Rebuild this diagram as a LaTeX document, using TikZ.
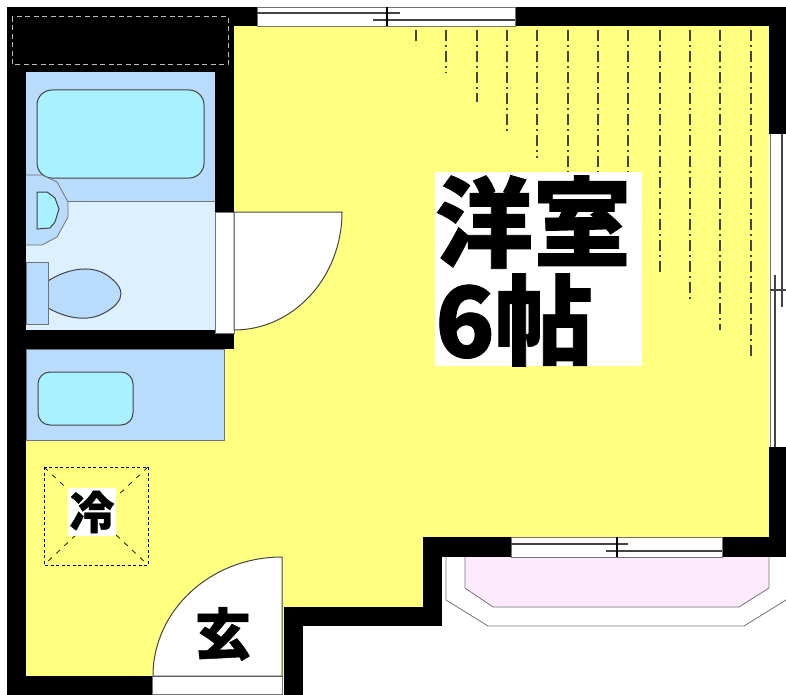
\documentclass[tikz,border=0pt]{standalone}
\usepackage{fontspec}
\newfontfamily\cjk[BoldFeatures={FakeBold=0.8}]{Noto Sans CJK JP}
\definecolor{roomyellow}{HTML}{FFFF80}
\definecolor{bathblue}{HTML}{B9DCFD}
\definecolor{washblue}{HTML}{DDF0FF}
\definecolor{tubcyan}{HTML}{A9F1FF}
\definecolor{balconypink}{HTML}{FDEBFD}
\definecolor{linegrey}{HTML}{444444}
\tikzset{
    wall/.style={fill=black,draw=none},
    fixture/.style={draw=linegrey,line width=1pt},
    thinline/.style={draw=linegrey,line width=1.1pt},
    framed/.style={draw=linegrey!75,line width=0.8pt},
    ceiling/.style={draw=linegrey,line width=1.2pt,dash pattern=on 11pt off 4pt on 2pt off 4pt},
    fridgeline/.style={draw=black,line width=0.8pt,dash pattern=on 3pt off 2.5pt},
    fridgediag/.style={draw=black,line width=0.7pt,dash pattern=on 5pt off 6pt},
    label/.style={font=\cjk\bfseries,inner sep=0pt,text=black}
}
\begin{document}
\begin{tikzpicture}[x=1pt,y=-1pt]
    \useasboundingbox (0,0) rectangle (786,695);
    % floor
    \fill[roomyellow] (26,26) -- (769,26) -- (769,537) -- (423,537) -- (423,607) -- (284,607) -- (284,676) -- (26,676) -- cycle;
    % balcony
    \draw[framed,fill=white] (446,557) -- (446,600) -- (488,626) -- (744,626) -- (786,600);
    \draw[framed,fill=balconypink] (465,557) -- (465,588) -- (493,607) -- (739,607) -- (769,588) -- (769,557);
    % walls
    \fill[wall] (7,7) rectangle (257,26);
    \fill[wall] (515,7) rectangle (786,26);
    \fill[wall] (7,7) rectangle (234,72);
    \fill[wall] (7,7) rectangle (26,695);
    \fill[wall] (215,26) rectangle (234,212);
    \fill[wall] (7,330) rectangle (234,349);
    \fill[wall] (7,676) rectangle (152,695);
    \fill[wall] (284,607) rectangle (303,695);
    \fill[wall] (284,607) rectangle (442,626);
    \fill[wall] (423,537) rectangle (442,626);
    \fill[wall] (423,537) rectangle (511,557);
    \fill[wall] (722,537) rectangle (786,557);
    \fill[wall] (769,447) rectangle (786,557);
    \fill[wall] (769,7) rectangle (786,134);
    % closet
    \draw[white!75!black,line width=1pt,dash pattern=on 5pt off 3.5pt] (12,17) rectangle (228,65);
    % bath and toilet
    \fill[bathblue] (26,72) rectangle (215,201);
    \fill[washblue] (26,201) rectangle (215,330);
    \draw[framed] (26,201) -- (215,201);
    \draw[fixture,fill=tubcyan,rounded corners=15pt] (37,90) rectangle (204,178);
    \draw[framed,fill=bathblue] (26,175) -- (42,175) -- (57,182) -- (68,202) -- (68,217) -- (57,237) -- (42,245) -- (26,245);
    \draw[fixture,fill=tubcyan] (37,192) -- (47,192) -- (55,198) -- (59,209) -- (55,222) -- (50,228) -- (37,229) -- cycle;
    \draw[fixture,fill=bathblue] (48,281) .. controls (68,268) and (95,263) .. (112,279) .. controls (118,284) and (121,289) .. (121,294) .. controls (121,300) and (115,307) .. (106,312) .. controls (88,323) and (66,318) .. (48,308) -- cycle;
    \draw[framed,fill=bathblue] (26,262) rectangle (48,324);
    % bath door
    \draw[framed,fill=white] (215,212) rectangle (234,333);
    \draw[fixture,fill=white] (234,212) -- (342,212) arc (0:-90:108pt and 118pt) -- cycle;
    % kitchen
    \draw[framed,fill=bathblue] (26,349) rectangle (224,440);
    \draw[fixture,fill=tubcyan,rounded corners=12pt] (38,372) rectangle (133,425);
    % fridge
    \draw[fridgeline] (44,467) rectangle (148,565);
    \draw[fridgediag] (44,467) -- (148,565);
    \draw[fridgediag] (148,467) -- (44,565);
    \node[label,fill=white,minimum width=48pt,minimum height=48pt,font=\cjk\bfseries\fontsize{45}{45}\selectfont] (fridge) at (92,512) {冷};
    % entrance
    \draw[framed,fill=white] (152,676) rectangle (282,694);
    \draw[fixture,fill=white] (282,676) -- (153,676) arc (180:90:129pt and 119pt) -- cycle;
    \node[label,font=\cjk\bfseries\fontsize{56}{56}\selectfont] (entrance) at (223,634) {玄};
    % windows
    \draw[framed,fill=white] (257,7) rectangle (515,26);
    \draw[thinline] (257,13) -- (400,13);
    \draw[thinline] (373,20) -- (515,20);
    \draw[thinline,draw=black] (387,7) -- (387,26);
    \draw[framed,fill=white] (511,537) rectangle (722,557);
    \draw[thinline] (511,544) -- (628,544);
    \draw[thinline] (606,551) -- (722,551);
    \draw[thinline,draw=black] (617,537) -- (617,557);
    \fill[white] (769,134) rectangle (786,447);
    \draw[framed] (770,134) -- (770,447);
    \draw[thinline] (782,134) -- (782,307);
    \draw[thinline] (775,275) -- (775,447);
    \draw[thinline] (770,290) -- (786,290);
    % ceiling lines
    \foreach \x/\yend in {416/45,446/73,477/102,507/131,537/158,568/172,598/172,628/172,660/274,690/301,720/330,751/358}
        \draw[ceiling] (\x,30) -- (\x,\yend);
    % room name
    \fill[white] (435,172) rectangle (642,366);
    \node[label,font=\cjk\bfseries\fontsize{98}{98}\selectfont] (roomname) at (533,222) {洋室};
    \node[label,font=\cjk\bfseries\fontsize{98}{98}\selectfont] (roomsize) at (514,320) {6帖};
\end{tikzpicture}
\end{document}
